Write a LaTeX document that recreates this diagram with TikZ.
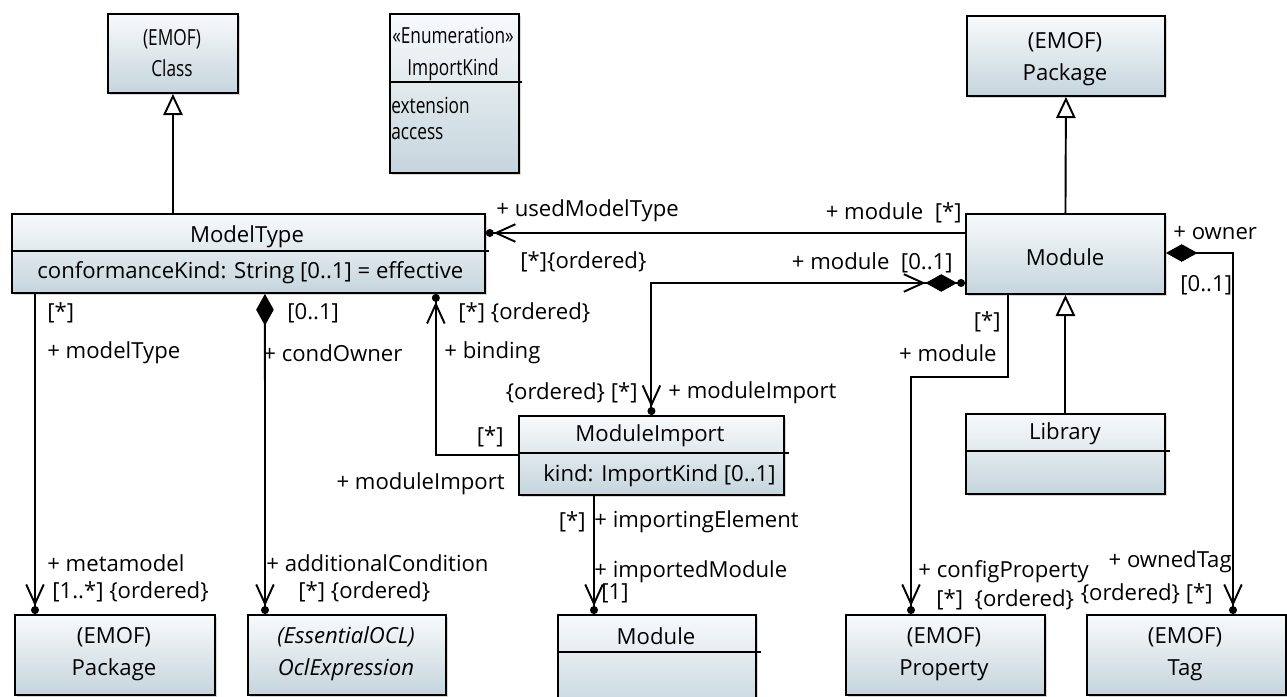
\documentclass[tikz,border=0pt]{standalone}
\usepackage{fontspec}
\setmainfont{Open Sans}
\usetikzlibrary{arrows.meta,shadows}

\definecolor{boxtop}{RGB}{248,250,251}
\definecolor{boxbot}{RGB}{197,213,221}

\tikzset{
  umlbox/.style={draw, line width=1.1pt, top color=boxtop, bottom color=boxbot, anchor=north west, inner sep=0pt,
    drop shadow={shadow xshift=1.2pt, shadow yshift=-1.2pt, fill=black!30}},
  boxtext/.style={font=\fontsize{12.6}{18}\selectfont, align=center, inner sep=0pt},
  narrow/.style={xscale=0.78, transform shape},
  lbl/.style={font=\fontsize{12.6}{14}\selectfont, inner sep=0pt},
  assoc/.style={line width=1.1pt},
  nav/.style={assoc, -{Straight Barb[length=11pt,width=10pt] Circle[length=4.5pt]}},
  compnav/.style={assoc, {Diamond[length=18pt,width=10pt]}-{Straight Barb[length=11pt,width=10pt] Circle[length=4.5pt]}},
  gen/.style={assoc, -{Triangle[open,length=12pt,width=11pt]}},
  divider/.style={line width=1.1pt},
}

\begin{document}
\begin{tikzpicture}[x=0.02cm, y=-0.02cm]
	\useasboundingbox (0,0) rectangle (1287,696);
	
	%%% top row
	\node[umlbox, minimum width=2.6cm, minimum height=1.58cm] (cls) at (107,13) {};
	\node[boxtext, narrow] (clsname) at (172,53) {(EMOF)\\Class};
	
	\node[umlbox, minimum width=2.58cm, minimum height=3.18cm] (ik) at (389,13) {};
	\node[boxtext, narrow] (ikname) at (453,54) {«Enumeration»\\ImportKind};
	\draw[divider] ([yshift=-1.38cm]ik.north west) -- ([yshift=-1.38cm, xshift=0.04cm]ik.north east);
	\node[boxtext, narrow, anchor=west] (ikext) at (391,105) {extension};
	\node[boxtext, narrow, anchor=west] (ikacc) at (391,134) {access};
	
	\node[umlbox, minimum width=3.96cm, minimum height=1.6cm] (pkgtop) at (966,15) {};
	\node[boxtext] (pkgtopname) at (1065,59) {(EMOF)\\Package};
	
	%%% middle
	\node[umlbox, minimum width=9.46cm, minimum height=1.58cm] (mt) at (11,213) {};
	\node[boxtext] (mtname) at (247,237) {ModelType};
	\draw[divider] ([yshift=-0.76cm]mt.north west) -- ([yshift=-0.76cm, xshift=0.06cm]mt.north east);
	\node[boxtext, anchor=west] (mtattr) at (37,273) {conformanceKind: String [0..1] = effective};
	
	\node[umlbox, minimum width=3.98cm, minimum height=1.6cm] (mod) at (965,213) {};
	\node[boxtext] (modname) at (1065,257) {Module};
	
	\node[umlbox, minimum width=5.3cm, minimum height=1.58cm] (mi) at (518,415) {};
	\node[boxtext] (miname) at (650,436) {ModuleImport};
	\draw[divider] ([yshift=-0.76cm]mi.north west) -- ([yshift=-0.76cm, xshift=0.08cm]mi.north east);
	\node[boxtext, anchor=west] (miattr) at (543,476) {kind: ImportKind [0..1]};
	
	\node[umlbox, minimum width=3.98cm, minimum height=1.6cm] (lib) at (965,413) {};
	\node[boxtext] (libname) at (1065,434) {Library};
	\draw[divider] ([yshift=-0.76cm]lib.north west) -- ([yshift=-0.76cm, xshift=0.08cm]lib.north east);
	
	%%% bottom row
	\node[umlbox, minimum width=4.0cm, minimum height=1.6cm] (pkgbot) at (14,614) {};
	\node[boxtext] (pkgbotname) at (114,654) {(EMOF)\\Package};
	
	\node[umlbox, minimum width=3.96cm, minimum height=1.6cm] (ocl) at (247,614) {};
	\node[boxtext, font=\fontsize{12.6}{18}\selectfont\itshape] (oclname) at (346,654) {(EssentialOCL)\\OclExpression};
	
	\node[umlbox, minimum width=3.96cm, minimum height=2.0cm] (modbot) at (557,614) {};
	\node[boxtext] (modbotname) at (656,636) {Module};
	\draw[divider] ([yshift=-0.76cm]modbot.north west) -- ([yshift=-0.76cm, xshift=0.08cm]modbot.north east);
	
	\node[umlbox, minimum width=3.98cm, minimum height=1.6cm] (prop) at (845,614) {};
	\node[boxtext] (propname) at (944,654) {(EMOF)\\Property};
	
	\node[umlbox, minimum width=3.98cm, minimum height=1.6cm] (tag) at (1086,614) {};
	\node[boxtext] (tagname) at (1185,654) {(EMOF)\\Tag};
	
	%%% generalizations
	\draw[gen] (cls.south |- mt.north) -- (cls.south);
	\draw[gen] (mod.north) -- (pkgtop.south);
	\draw[gen] (lib.north) -- (mod.south);
	
	%%% associations
	\draw[nav] ([yshift=-0.4cm]mod.north west) -- ([yshift=-0.4cm]mt.north east);
	\draw[assoc, {Circle[length=4.5pt] Diamond[length=18pt,width=10pt] Straight Barb[length=11pt,width=10pt]}-{Straight Barb[length=11pt,width=10pt] Circle[length=4.5pt]}]
		([yshift=-1.4cm]mod.north west) -| (mi.north);
	\draw[nav] ([yshift=-0.8cm]mi.north west) -| ([xshift=-1.0cm]mt.south east);
	\draw[nav] ([xshift=0.48cm]mt.south west) -- ([xshift=0.42cm]pkgbot.north west);
	\draw[compnav] ([xshift=5.08cm]mt.south west) -- ([xshift=0.36cm]ocl.north west);
	\draw[nav] ([xshift=1.52cm]mi.south west) -- ([xshift=0.74cm]modbot.north west);
	\draw[nav] ([xshift=0.86cm]mod.south west) -- ++(0,82) -| ([xshift=1.32cm]prop.north west);
	\draw[compnav] ([yshift=-0.8cm]mod.north east) -| ([xshift=2.94cm]tag.north west);
	
	%%% role names and multiplicities
	\node[lbl, anchor=west] (lusedmt) at (496,211) {+ usedModelType};
	\node[lbl, anchor=west] (lusedmtm) at (520,262) {[*]\{ordered\}};
	\node[lbl, anchor=east] (lmodstar) at (962,213) {+ module\ \ [*]};
	\node[lbl, anchor=east] (lmodopt) at (953,263) {+ module\ \ [0..1]};
	\node[lbl, anchor=east] (lmiord) at (638,393) {\{ordered\} [*]};
	\node[lbl, anchor=west] (lmitop) at (668,393) {+ moduleImport};
	\node[lbl, anchor=west] (lbindm) at (458,313) {[*] \{ordered\}};
	\node[lbl, anchor=west] (lbind) at (444,353) {+ binding};
	\node[lbl, anchor=east] (lmistar) at (504,437) {[*]};
	\node[lbl, anchor=east] (lmileft) at (505,484) {+ moduleImport};
	\node[lbl, anchor=west] (lmtstar) at (47,313) {[*]};
	\node[lbl, anchor=west] (lmt) at (47,353) {+ modelType};
	\node[lbl, anchor=west] (lcoopt) at (287,313) {[0..1]};
	\node[lbl, anchor=west] (lco) at (263,353) {+ condOwner};
	\node[lbl, anchor=west] (lmeta) at (47,563) {+ metamodel};
	\node[lbl, anchor=west] (lmetam) at (52,592) {[1..*] \{ordered\}};
	\node[lbl, anchor=west] (lac) at (266,563) {+ additionalCondition};
	\node[lbl, anchor=west] (lacm) at (298,592) {[*] \{ordered\}};
	\node[lbl, anchor=east] (liestar) at (586,522) {[*]};
	\node[lbl, anchor=west] (lie) at (594,522) {+ importingElement};
	\node[lbl, anchor=west] (limod) at (594,572) {+ importedModule};
	\node[lbl, anchor=west] (limodm) at (601,593) {[1]};
	\node[lbl, anchor=east] (lcmstar) at (1001,322) {[*]};
	\node[lbl, anchor=east] (lcm) at (997,353) {+ module};
	\node[lbl, anchor=west] (lown) at (1173,233) {+ owner};
	\node[lbl, anchor=west] (lownm) at (1180,285) {[0..1]};
	\node[lbl, anchor=west] (lcp) at (918,572) {+ configProperty};
	\node[lbl, anchor=west] (lcpm) at (936,600) {[*]\ \ \{ordered\}};
	\node[lbl, anchor=east] (lot) at (1232,562) {+ ownedTag};
	\node[lbl, anchor=east] (lotm) at (1213,594) {\{ordered\} [*]};
\end{tikzpicture}
\end{document}
